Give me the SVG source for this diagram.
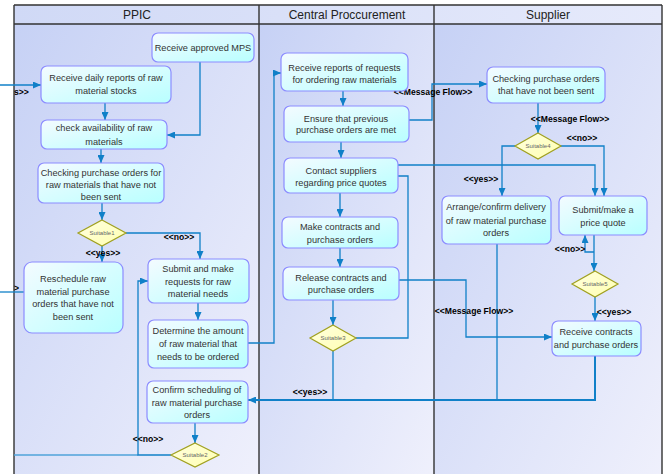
<svg xmlns="http://www.w3.org/2000/svg" width="667" height="474" viewBox="0 0 667 474">
<defs>
<linearGradient id="lane" x1="0" y1="0" x2="1" y2="1">
<stop offset="0" stop-color="#c6d1f5"/><stop offset="1" stop-color="#eff0fc"/>
</linearGradient>
<linearGradient id="head" x1="0" y1="0" x2="1" y2="0">
<stop offset="0" stop-color="#d0d9f6"/><stop offset="1" stop-color="#e6eafb"/>
</linearGradient>
<linearGradient id="node" x1="0" y1="0" x2="1" y2="1">
<stop offset="0" stop-color="#f4fbff"/><stop offset="1" stop-color="#b8ffff"/>
</linearGradient>
<linearGradient id="dia" x1="0" y1="0" x2="1" y2="1">
<stop offset="0" stop-color="#ffffe0"/><stop offset="1" stop-color="#ffffb0"/>
</linearGradient>
<marker id="ah" markerWidth="8" markerHeight="7" refX="8" refY="3.5" orient="auto" markerUnits="userSpaceOnUse">
<path d="M0,0 L8,3.5 L0,7 z" fill="#1080c8"/>
</marker>
</defs>
<style>
.lane{fill:url(#lane);stroke:none}
.head{fill:url(#head);stroke:none}
.bl{stroke:#333;stroke-width:1.4;fill:none}
.ht{font-family:"Liberation Sans",Arial,sans-serif;font-size:12px;fill:#222;text-anchor:middle}
.n rect{fill:url(#node);stroke:#8c8cff;stroke-width:1.2}
.n text{font-family:"Liberation Sans",Arial,sans-serif;font-size:9.2px;fill:#333;text-anchor:middle}
.d polygon{fill:url(#dia);stroke:#a0a020;stroke-width:1.2}
.d text{font-family:"Liberation Sans",Arial,sans-serif;font-size:6px;fill:#666;text-anchor:middle}
.c path{stroke:#1080c8;stroke-width:1.3;fill:none}
.c .arr{marker-end:url(#ah)}
.lb{font-family:"Liberation Sans",Arial,sans-serif;font-size:8.6px;font-weight:bold;fill:#000;text-anchor:middle}
</style>
<rect x="0" y="0" width="667" height="474" fill="#ffffff"/>
<g id="lanes">
<rect class="lane" x="14" y="24" width="245" height="450"/>
<rect class="lane" x="259" y="24" width="175" height="450"/>
<rect class="lane" x="434" y="24" width="228" height="450"/>
<rect class="head" x="14" y="5" width="648" height="19"/>
<path class="bl" d="M14,5 H662 M14,24 H662 M14,5 V474 M259,5 V474 M434,5 V474 M662,5 V474"/>
<text class="ht" x="137" y="19">PPIC</text>
<text class="ht" x="347" y="19">Central Proccurement</text>
<text class="ht" x="548" y="19">Supplier</text>
</g>
<g id="connectors" class="c">
<path class="arr" d="M0,85 H41"/>
<path d="M0,292 H24"/>
<path class="arr" d="M200,62 V135 H167"/>
<path class="arr" d="M105,103 V120"/>
<path class="arr" d="M101,149 V163"/>
<path class="arr" d="M102,203 V220"/>
<path class="arr" d="M102,246 V262"/>
<path class="arr" d="M126,233 H200 V259"/>
<path class="arr" d="M198,303 V320"/>
<path class="arr" d="M248,343 H274 V73 H281"/>
<path class="arr" d="M195,423 V443"/>
<path style="stroke:#4fa3da" d="M14,455 H138"/>
<path class="arr" d="M171,455 H138 V281 H148"/>
<path class="arr" d="M343,91 V106"/>
<path class="arr" d="M341,142 V158"/>
<path class="arr" d="M340,193 V217"/>
<path class="arr" d="M340,248 V267"/>
<path class="arr" d="M333,300 V325"/>
<path class="arr" d="M409,120 H432 V84 H487"/>
<path class="arr" d="M398,165 H595 V196"/>
<path d="M356,338 H408 V176 H398"/>
<path d="M333,351 V400"/>
<path d="M497,244 V400"/>
<path class="arr" style="stroke-width:2" d="M595,356 V400 H248"/>
<path class="arr" d="M399,280 H466 V337 H552"/>
<path class="arr" d="M538,103 V133"/>
<path class="arr" d="M560,146 H604 V196"/>
<path class="arr" d="M515,146 H502 V196"/>
<path class="arr" d="M594,235 V271"/>
<path class="arr" d="M594,252 H585 V235"/>
<path class="arr" d="M595,297 V321"/>
</g>
<g id="labels">
<text class="lb" x="14" y="95" style="text-anchor:start">s&gt;&gt;</text>
<text class="lb" x="14" y="291" style="text-anchor:start">&gt;</text>
<text class="lb" x="179" y="240">&lt;&lt;no&gt;&gt;</text>
<text class="lb" x="103" y="256">&lt;&lt;yes&gt;&gt;</text>
<text class="lb" x="148" y="442">&lt;&lt;no&gt;&gt;</text>
<text class="lb" x="310" y="395">&lt;&lt;yes&gt;&gt;</text>
<text class="lb" x="433" y="95">&lt;&lt;Message Flow&gt;&gt;</text>
<text class="lb" x="570" y="122">&lt;&lt;Message Flow&gt;&gt;</text>
<text class="lb" x="582" y="141">&lt;&lt;no&gt;&gt;</text>
<text class="lb" x="481" y="182">&lt;&lt;yes&gt;&gt;</text>
<text class="lb" x="570" y="252">&lt;&lt;no&gt;&gt;</text>
<text class="lb" x="614" y="315">&lt;&lt;yes&gt;&gt;</text>
<text class="lb" x="474" y="314">&lt;&lt;Message Flow&gt;&gt;</text>
</g>
<g id="n-mps" class="n"><rect x="152" y="33" width="102" height="29" rx="6"/><text x="203" y="51">Receive approved MPS</text></g>
<g id="n-daily" class="n"><rect x="41" y="66" width="130" height="37" rx="6"/><text x="106" y="81">Receive daily reports of raw</text><text x="106" y="94">material stocks</text></g>
<g id="n-check" class="n"><rect x="41" y="120" width="126" height="29" rx="6"/><text x="104" y="131">check availability of raw</text><text x="104" y="145">materials</text></g>
<g id="n-checking" class="n"><rect x="38" y="163" width="126" height="40" rx="6"/><text x="101" y="175.5">Checking purchase orders for</text><text x="101" y="187.5">raw materials that have not</text><text x="101" y="199.5">been sent</text></g>
<g id="n-resched" class="n"><rect x="24" y="262" width="99" height="71" rx="8"/><text x="73" y="282">Reschedule raw</text><text x="73" y="295">material purchase</text><text x="73" y="307">orders that have not</text><text x="73" y="320">been sent</text></g>
<g id="n-submit" class="n"><rect x="148" y="259" width="101" height="44" rx="6"/><text x="198" y="272">Submit and make</text><text x="198" y="285">requests for raw</text><text x="198" y="297">material needs</text></g>
<g id="n-determine" class="n"><rect x="148" y="320" width="100" height="48" rx="6"/><text x="198" y="334">Determine the amount</text><text x="198" y="347">of raw material that</text><text x="198" y="360">needs to be ordered</text></g>
<g id="n-confirm" class="n"><rect x="147" y="381" width="101" height="42" rx="6"/><text x="197" y="393">Confirm scheduling of</text><text x="197" y="405.5">raw material purchase</text><text x="197" y="418">orders</text></g>
<g id="n-recvreq" class="n"><rect x="281" y="53" width="127" height="38" rx="6"/><text x="344.5" y="70.5">Receive reports of requests</text><text x="344.5" y="83">for ordering raw materials</text></g>
<g id="n-ensure" class="n"><rect x="284" y="106" width="125" height="36" rx="6"/><text x="346" y="121.5">Ensure that previous</text><text x="346" y="133">purchase orders are met</text></g>
<g id="n-contact" class="n"><rect x="284" y="158" width="114" height="35" rx="6"/><text x="341" y="174">Contact suppliers</text><text x="341" y="186">regarding price quotes</text></g>
<g id="n-make" class="n"><rect x="282" y="217" width="116" height="31" rx="6"/><text x="340" y="230">Make contracts and</text><text x="340" y="242.5">purchase orders</text></g>
<g id="n-release" class="n"><rect x="283" y="267" width="116" height="33" rx="6"/><text x="341" y="280.5">Release contracts and</text><text x="341" y="293">purchase orders</text></g>
<g id="n-supcheck" class="n"><rect x="487" y="67" width="118" height="36" rx="6"/><text x="546" y="82">Checking purchase orders</text><text x="546" y="94">that have not been sent</text></g>
<g id="n-arrange" class="n"><rect x="442" y="196" width="109" height="48" rx="6"/><text x="496" y="210">Arrange/confirm delivery</text><text x="496" y="223.5">of raw material purchase</text><text x="496" y="235.5">orders</text></g>
<g id="n-quote" class="n"><rect x="559" y="196" width="88" height="39" rx="6"/><text x="603" y="213">Submit/make a</text><text x="603" y="225.5">price quote</text></g>
<g id="n-recvcon" class="n"><rect x="552" y="321" width="89" height="35" rx="6"/><text x="596" y="335">Receive contracts</text><text x="596" y="348">and purchase orders</text></g>
<g id="d-s1" class="d"><polygon points="102,220 126,233 102,246 78,233"/><text x="102" y="235">Suitable1</text></g>
<g id="d-s2" class="d"><polygon points="195,443 219,455 195,467 171,455"/><text x="195" y="457">Suitable2</text></g>
<g id="d-s3" class="d"><polygon points="333,325 356,338 333,351 310,338"/><text x="333" y="340">Suitable3</text></g>
<g id="d-s4" class="d"><polygon points="538,133 561,146 538,159 515,146"/><text x="538" y="148">Suitable4</text></g>
<g id="d-s5" class="d"><polygon points="595,271 618,284 595,297 572,284"/><text x="595" y="286">Suitable5</text></g>
</svg>
